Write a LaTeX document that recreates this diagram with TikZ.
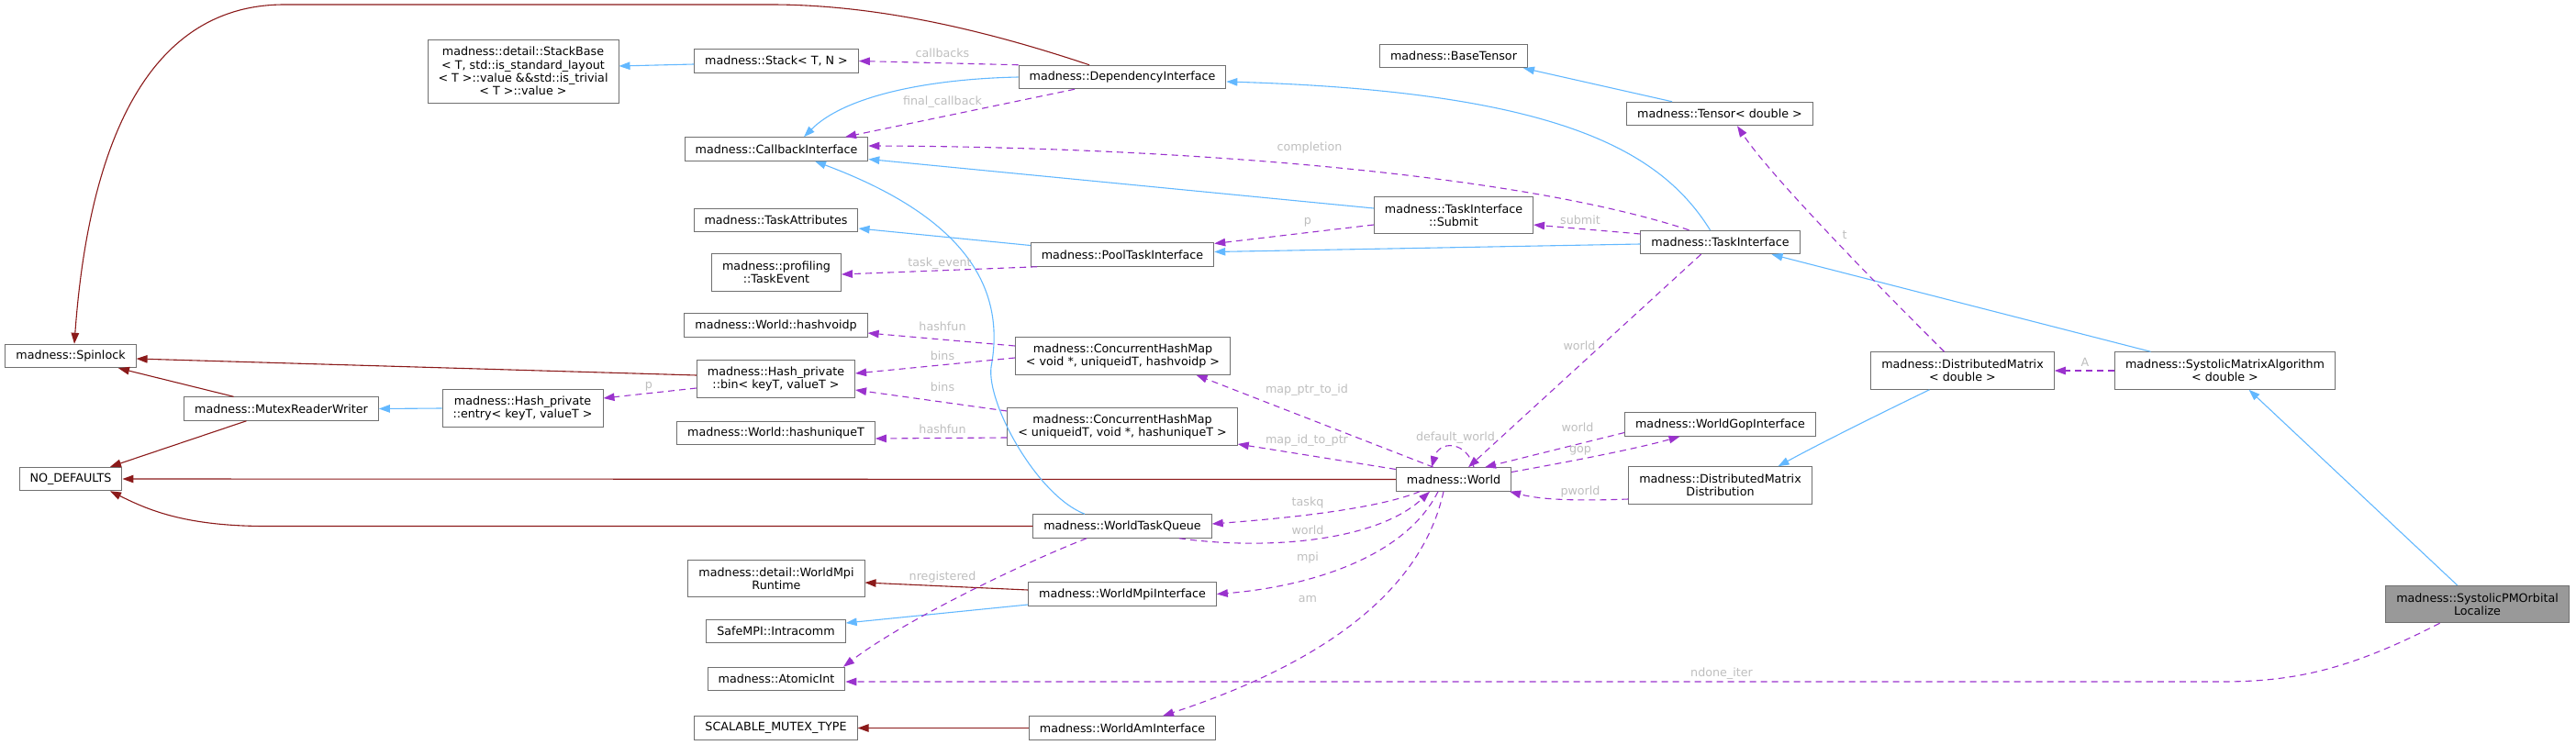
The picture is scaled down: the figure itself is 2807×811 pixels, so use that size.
\documentclass[tikz,border=0pt]{standalone}
\usepackage{fontspec}
\setmainfont{DejaVu Sans}
\usetikzlibrary{arrows.meta}
\definecolor{azul}{HTML}{63B8FF}
\definecolor{morado}{HTML}{9A32CD}
\definecolor{granate}{HTML}{8B1A1A}
\definecolor{borde}{HTML}{707070}
\definecolor{grisclaro}{HTML}{BEBEBE}
\definecolor{grismedio}{HTML}{999999}
\begin{document}
\begin{tikzpicture}[x=1pt, y=-1pt,
        clase/.style={draw=borde, line width=1pt, fill=white, align=center,
        font=\fontsize{12.7}{14.3}\selectfont, inner xsep=11.5pt, inner ysep=2pt,
        minimum height=25.5pt},
        clase2/.style={clase, minimum height=40.5pt},
        punta/.style={-{Triangle[length=12pt, width=8.5pt]}},
        herencia/.style={draw=azul, line width=1.1pt, punta},
        privado/.style={draw=granate, line width=1.1pt, punta},
        uso/.style={draw=morado, line width=1.1pt, dash pattern=on 7pt off 5pt, punta},
        etiq/.style={text=grisclaro, font=\fontsize{12.7}{14.3}\selectfont, inner sep=0pt}
    ]
        \useasboundingbox (0,0) rectangle (2807,811);
        \node[clase] (spinlock) at (77,388) {madness::Spinlock};
        \node[clase] (nodefaults) at (77,522) {NO\_DEFAULTS};
        \node[clase] (mrw) at (306.5,445.5) {madness::MutexReaderWriter};
        \node[clase2] (entry) at (569.5,445) {madness::Hash\_private\\::entry< keyT, valueT >};
        \node[clase, minimum height=69pt] (stackbase) at (570,77.5)
        {madness::detail::StackBase\\< T, std::is\_standard\_layout\\< T >::value \&\&std::is\_trivial\\< T >::value >};
        \node[clase] (stack) at (846,66.5) {madness::Stack< T, N >};
        \node[clase] (depint) at (1223,84) {madness::DependencyInterface};
        \node[clase] (cbi) at (846,162.5) {madness::CallbackInterface};
        \node[clase] (taskattr) at (845.5,240) {madness::TaskAttributes};
        \node[clase2] (taskevent) at (846,297) {madness::profiling\\::TaskEvent};
        \node[clase] (pti) at (1223,277.5) {madness::PoolTaskInterface};
        \node[clase] (hashvoidp) at (845.5,354.5) {madness::World::hashvoidp};
        \node[clase2] (chmvoid) at (1223.5,388) {madness::ConcurrentHashMap\\< void *, uniqueidT, hashvoidp >};
        \node[clase2] (bin) at (845.5,413) {madness::Hash\_private\\::bin< keyT, valueT >};
        \node[clase2] (chmuniq) at (1223,465) {madness::ConcurrentHashMap\\< uniqueidT, void *, hashuniqueT >};
        \node[clase] (hashuniq) at (845.5,472) {madness::World::hashuniqueT};
        \node[clase] (wtq) at (1223,573.5) {madness::WorldTaskQueue};
        \node[clase2] (wmr) at (846,630.5) {madness::detail::WorldMpi\\Runtime};
        \node[clase] (wmi) at (1223,647.5) {madness::WorldMpiInterface};
        \node[clase] (intracomm) at (845.5,688) {SafeMPI::Intracomm};
        \node[clase] (atomicint) at (846,740) {madness::AtomicInt};
        \node[clase] (smt) at (845.5,793.5) {SCALABLE\_MUTEX\_TYPE};
        \node[clase] (wai) at (1223,793.5) {madness::WorldAmInterface};
        \node[clase] (basetensor) at (1584,61) {madness::BaseTensor};
        \node[clase] (tensor) at (1874,124) {madness::Tensor< double >};
        \node[clase2] (submit) at (1584,234.5) {madness::TaskInterface\\::Submit};
        \node[clase] (taskif) at (1874.5,264) {madness::TaskInterface};
        \node[clase] (world) at (1584,522.5) {madness::World};
        \node[clase] (wgi) at (1874.5,462.5) {madness::WorldGopInterface};
        \node[clase2] (dmd) at (1874.5,529) {madness::DistributedMatrix\\Distribution};
        \node[clase2] (distmat) at (2138.5,404) {madness::DistributedMatrix\\< double >};
        \node[clase2] (sma) at (2424.5,404) {madness::SystolicMatrixAlgorithm\\< double >};
        \node[clase2, fill=grismedio] (spml) at (2699.5,658.5) {madness::SystolicPMOrbital\\Localize};
        \draw[privado] ([xshift=-36pt]depint.north) .. controls (1080,35) and (960,5) .. (840,5)
            -- (310,5) .. controls (150,5) and (95,180) .. ([xshift=4pt]spinlock.north);
        \draw[privado] ([yshift=4pt]bin.west) -- ([yshift=-3pt]spinlock.east);
        \draw[privado] ([xshift=-52pt]mrw.north) -- ([xshift=52pt]spinlock.south);
        \draw[privado] ([xshift=-38pt]mrw.south) -- ([xshift=43pt]nodefaults.north);
        \draw[privado] (world.west) -- (nodefaults.east);
        \draw[privado] (wtq.west) -- (290,573.5) .. controls (200,573.5) and (160,555) .. ([xshift=43pt]nodefaults.south);
        \draw[privado] ([yshift=4.5pt]wmi.west) -- ([yshift=-4.5pt]wmr.east);
        \draw[privado] (wai.west) -- (smt.east);
        \draw[herencia] (entry.west) -- (mrw.east);
        \draw[herencia] ([yshift=-3.5pt]stack.west) -- ([yshift=5.5pt]stackbase.east);
        \draw[herencia] (depint.west) .. controls (1010,86) and (920,105) .. ([xshift=30pt]cbi.north);
        \draw[herencia] ([yshift=7.5pt]submit.west) -- ([yshift=-11pt]cbi.east);
        \draw[herencia] ([xshift=-41pt]wtq.north) .. controls (1130,540) and (1075,440) .. (1080,400)
            .. controls (1095,320) and (1060,240) .. ([xshift=42pt]cbi.south);
        \draw[herencia] ([yshift=10pt]pti.west) -- ([yshift=-9pt]taskattr.east);
        \draw[herencia] ([yshift=-2pt]taskif.west) -- ([yshift=3pt]pti.east);
        \draw[herencia] ([xshift=-11pt]taskif.north) .. controls (1810,165) and (1700,100) .. ([yshift=-5pt]depint.east);
        \draw[herencia] ([xshift=-52pt]tensor.north) -- ([xshift=76pt]basetensor.south);
        \draw[herencia] ([xshift=-81pt]sma.north) -- ([xshift=56pt]taskif.south);
        \draw[herencia] ([xshift=-22pt]spml.north) -- ([xshift=26pt]sma.south);
        \draw[herencia] ([xshift=-36pt]distmat.south) .. controls (2040,455) and (1980,485) .. ([xshift=63pt]dmd.north);
        \draw[herencia] ([yshift=-11.5pt]wmi.west) -- ([yshift=9pt]intracomm.east);
        \draw[uso] (depint.north west) -- (stack.east) node[etiq] at (1027,58) {callbacks};
        \draw[uso] ([xshift=-52pt]depint.south) -- ([xshift=75pt]cbi.north) node[etiq] at (1027,111) {final\_callback};
        \draw[uso] ([xshift=-34pt]taskif.north) .. controls (1640,185) and (1250,160) .. ([yshift=3.5pt]cbi.east)
            node[etiq] at (1427,161) {completion};
        \draw[uso] ([xshift=-93pt]pti.south) -- ([yshift=-2pt]taskevent.east) node[etiq] at (1024,287) {task\_event};
        \draw[uso] ([yshift=-10.5pt]submit.west) -- ([yshift=12pt]pti.east) node[etiq] at (1425,242) {p};
        \draw[uso] ([yshift=9pt]taskif.west) -- ([yshift=-10.5pt]submit.east) node[etiq] at (1722,240) {submit};
        \draw[uso] ([yshift=11pt]chmvoid.west) -- ([yshift=-8.5pt]hashvoidp.east) node[etiq] at (1027,356) {hashfun};
        \draw[uso] ([yshift=-2pt]chmvoid.west) -- ([yshift=6pt]bin.east) node[etiq] at (1027,388) {bins};
        \draw[uso] ([yshift=17pt]chmuniq.west) -- ([yshift=-12pt]bin.east) node[etiq] at (1027,422) {bins};
        \draw[uso] ([yshift=-12pt]chmuniq.west) -- ([yshift=-6pt]hashuniq.east) node[etiq] at (1027,468) {hashfun};
        \draw[uso] ([yshift=-10pt]bin.west) -- ([yshift=11pt]entry.east) node[etiq] at (707,421) {p};
        \draw[uso] ([xshift=-22pt]world.north) -- ([xshift=80pt]chmvoid.south) node[etiq] at (1424,425) {map\_ptr\_to\_id};
        \draw[uso] ([yshift=11pt]world.west) -- ([yshift=-19pt]chmuniq.east) node[etiq] at (1424,480) {map\_id\_to\_ptr};
        \draw[uso] ([xshift=22pt]world.north) .. controls (1598,480) and (1568,480) .. ([xshift=-24pt]world.north)
            node[etiq] at (1586,477) {default\_world};
        \draw[uso] ([xshift=-21pt]taskif.south) -- ([xshift=16pt]world.north) node[etiq] at (1721,377) {world};
        \draw[uso] ([yshift=-9pt]wgi.west) -- ([xshift=34pt]world.north) node[etiq] at (1719,466) {world};
        \draw[uso] ([yshift=8pt]world.east) .. controls (1700,505) and (1780,490) .. ([xshift=-44pt]wgi.south)
            node[etiq] at (1722,491) {gop};
        \draw[uso] ([yshift=-15pt]dmd.west) .. controls (1720,546) and (1680,545) .. ([xshift=61pt]world.south)
            node[etiq] at (1722,536) {pworld};
        \draw[uso] ([xshift=-20pt]distmat.north) .. controls (2085,350) and (1935,200) .. ([xshift=19pt]tensor.south)
            node[etiq] at (2010,256) {t};
        \draw[uso] (sma.west) -- (distmat.east) node[etiq] at (2272,395) {A};
        \draw[uso] ([xshift=-37pt]world.south) .. controls (1500,555) and (1400,565) .. ([yshift=2.5pt]wtq.east)
            node[etiq] at (1425,548) {taskq};
        \draw[uso] ([xshift=62pt]wtq.south) .. controls (1380,600) and (1500,590) .. ([xshift=-26pt]world.south)
            node[etiq] at (1425,578) {world};
        \draw[uso] ([xshift=-17pt]world.south) .. controls (1530,610) and (1420,640) .. (wmi.east)
            node[etiq] at (1425,608) {mpi};
        \draw[uso] ([xshift=-11pt]world.south) .. controls (1550,640) and (1450,720) .. ([xshift=44pt]wai.north)
            node[etiq] at (1425,653) {am};
        \draw[uso] ([xshift=-39pt]wtq.south) .. controls (1100,620) and (980,680) .. ([xshift=73pt]atomicint.north)
            node[etiq] at (1027,629) {nregistered};
        \draw[uso] ([xshift=-41pt]spml.south) .. controls (2560,730) and (2500,743) .. (2420,743)
            -- ([yshift=-3pt]atomicint.east) node[etiq] at (1876,734) {ndone\_iter};
    \end{tikzpicture}
\end{document}
